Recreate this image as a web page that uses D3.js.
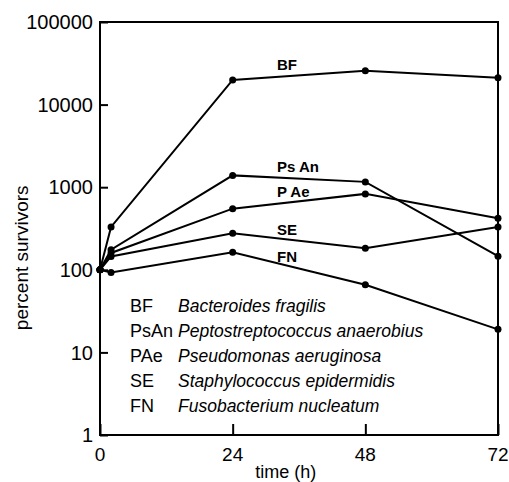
<!DOCTYPE html>
<html>
<head>
<meta charset="utf-8">
<script src="https://cdn.jsdelivr.net/npm/d3@7/dist/d3.min.js"></script>
<style>
  body { margin: 0; background: #fff; }
  svg { display: block; }
  text { font-family: "Liberation Sans", Arial, sans-serif; fill: #000; }
</style>
</head>
<body>
<div id="chart"></div>
<script>
// sampling times (h)
const times = [0, 2, 24, 48, 72];

// percent survivors per organism
const bf   = [100, 330, 19900, 25700, 21200];
const psAn = [100, 175, 1390, 1160, 146];
const pAe  = [100, 160, 550, 830, 420];
const se   = [100, 145, 277, 182, 330];
const fn   = [100, 93, 163, 66, 19];

const seriesNames = ["BF", "Ps An", "P Ae", "SE", "FN"];
const seriesValues = [bf, psAn, pAe, se, fn];

const xTicks = [0, 24, 48, 72];
const yTicks = [1, 10, 100, 1000, 10000, 100000];

const legendAbbr = ["BF", "PsAn", "PAe", "SE", "FN"];
const legendNames = [
    "Bacteroides fragilis",
    "Peptostreptococcus anaerobius",
    "Pseudomonas aeruginosa",
    "Staphylococcus epidermidis",
    "Fusobacterium nucleatum"
];

const width = 509, height = 482;
const margin = { top: 22, right: 11, bottom: 47, left: 100 };

const svg = d3.select("#chart").append("svg")
    .attr("width", width)
    .attr("height", height);

// scales work in page coordinates so every text can sit directly on the svg
const x = d3.scaleLinear().domain([0, 72]).range([margin.left, width - margin.right]);
const y = d3.scaleLog().domain([1, 100000]).range([height - margin.bottom, margin.top]);

// frame
svg.append("rect")
    .attr("x", x(0)).attr("y", y(100000))
    .attr("width", x(72) - x(0)).attr("height", y(1) - y(100000))
    .attr("fill", "none")
    .attr("stroke", "#000")
    .attr("stroke-width", 2);

// y axis: ticks point inward
const yAxis = svg.append("g")
    .attr("transform", `translate(${x(0)},0)`)
    .call(d3.axisRight(y).tickValues(yTicks).tickSize(8).tickFormat(""));
yAxis.select(".domain").remove();
yAxis.selectAll("line").attr("stroke-width", 2);
svg.selectAll(".y-label")
    .data(yTicks)
    .enter().append("text")
    .attr("class", "y-label")
    .attr("x", x(0) - 7)
    .attr("y", d => y(d))
    .attr("dy", "0.36em")
    .attr("text-anchor", "end")
    .style("font-size", "20px")
    .text(d => d);

// x axis: ticks point inward
const xAxis = svg.append("g")
    .attr("transform", `translate(0,${y(1)})`)
    .call(d3.axisTop(x).tickValues(xTicks).tickSize(11).tickFormat(""));
xAxis.select(".domain").remove();
xAxis.selectAll("line").attr("stroke-width", 2);
svg.selectAll(".x-label")
    .data(xTicks)
    .enter().append("text")
    .attr("class", "x-label")
    .attr("x", d => x(d))
    .attr("y", y(1) + 19)
    .attr("dy", "0.36em")
    .attr("text-anchor", "middle")
    .style("font-size", "19px")
    .text(d => d);

// axis titles
svg.append("text")
    .attr("x", -(y(100) - 12))
    .attr("y", 28)
    .attr("transform", "rotate(-90)")
    .attr("text-anchor", "middle")
    .style("font-size", "19px")
    .text("percent survivors");

svg.append("text")
    .attr("x", x(33.6))
    .attr("y", 478)
    .attr("text-anchor", "middle")
    .style("font-size", "18px")
    .text("time (h)");

// series lines and dots
const line = d3.line()
    .x((d, i) => x(times[i]))
    .y(d => y(d));

seriesValues.forEach(vals => {
    svg.append("path")
        .datum(vals)
        .attr("d", line)
        .attr("fill", "none")
        .attr("stroke", "#000")
        .attr("stroke-width", 2);

    svg.selectAll(null)
        .data(vals)
        .enter().append("circle")
        .attr("cx", (d, i) => x(times[i]))
        .attr("cy", d => y(d))
        .attr("r", 3.5)
        .attr("fill", "#000");
});

// series labels along the lines
const labelY = [65, 167, 192, 230, 257];
seriesNames.forEach((name, i) => {
    svg.append("text")
        .attr("x", 277)
        .attr("y", labelY[i])
        .attr("dy", "0.36em")
        .style("font-size", "15px")
        .style("font-weight", "600")
        .text(name);
});

// legend
legendAbbr.forEach((abbr, i) => {
    svg.append("text")
        .attr("x", 130)
        .attr("y", 306 + i * 25)
        .attr("dy", "0.36em")
        .style("font-size", "18px")
        .text(abbr);
    svg.append("text")
        .attr("x", 178)
        .attr("y", 306 + i * 25)
        .attr("dy", "0.36em")
        .style("font-size", "17.5px")
        .style("font-style", "italic")
        .text(legendNames[i]);
});
</script>
</body>
</html>
